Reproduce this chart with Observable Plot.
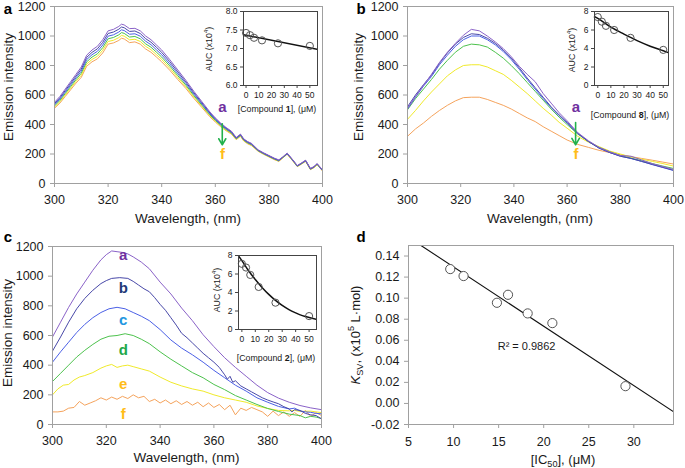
<!DOCTYPE html>
<html><head><meta charset="utf-8">
<script src="https://cdn.jsdelivr.net/npm/d3@7"></script>
<script src="https://cdn.jsdelivr.net/npm/@observablehq/plot@0.6"></script>
<style>
body{margin:0;background:#fff;}
#root{position:relative;width:685px;height:468px;overflow:hidden;background:#fff;}
</style></head><body><div id="root"></div>
<script>
// ---------- DATA ----------
const specTicksX = [300,320,340,360,380,400];
const specTicksY = [0,200,400,600,800,1000,1200];
const insetTicksX = [0,10,20,30,40,50];
const insetATicksY = [6.0,6.5,7.0,7.5,8.0];
const insetBCTicksY = [0,2,4,6,8];
const dTicksX = [5,10,15,20,25,30];
const dTicksY = [-0.02,0,0.02,0.04,0.06,0.08,0.10,0.12,0.14];

// Panel a (compound 1) spectra, shared wavelength grid
const wlA = [300,302,304,306,308,310,312,314,316,318,320,322,324,325,326,328,330,332,334,336,338,340,343,346,349,352,355,358,360,362,364,366,367.8,369.4,370.6,372,373.5,376,378,380,382,383.7,385,386.8,388.5,390.6,392.2,393.7,395.5,396.8,398,400];
const specA_a = [550,590,640,690,740,790,870,905,930,975,1035,1045,1065,1080,1075,1050,1052,1035,1000,975,940,905,840,770,700,625,555,485,445,410,380,355,312,335,303,285,272,228,208,190,172,160,178,206,170,122,140,158,102,115,135,93];
const specA_b = [542,581,630,679,728,776,855,889,913,957,1017,1027,1046,1061,1056,1031,1034,1017,982,958,924,889,826,757,689,615,547,478,439,405,376,351,309,332,300,282,269,226,206,188,170,158,176,204,168,120,138,156,100,113,133,91];
const specA_c = [534,572,620,668,716,762,840,873,896,939,999,1008,1027,1042,1037,1012,1015,999,965,941,907,873,811,744,678,606,539,472,434,400,371,347,306,329,297,279,266,224,204,186,168,156,175,203,167,119,137,155,99,112,132,90];
const specA_d = [526,563,610,657,704,748,825,857,879,921,981,990,1008,1023,1018,993,997,981,947,924,891,857,797,731,667,596,531,465,428,395,367,343,303,326,294,276,263,222,202,184,166,154,173,201,165,117,135,153,97,110,130,88];
const specA_e = [518,554,600,646,692,734,810,841,862,903,963,971,989,1004,999,974,978,963,930,907,874,841,782,718,656,587,523,459,423,390,362,339,300,323,291,273,260,220,200,182,164,152,172,200,164,116,134,152,96,109,129,87];
const specA_f = [510,545,590,635,680,720,795,825,845,885,945,953,970,985,980,955,960,945,912,890,858,825,768,705,645,577,515,452,417,385,358,335,297,320,288,270,257,218,198,180,162,150,170,198,162,114,132,150,94,107,127,85];

// Panel b (compound 8) spectra
const wlB = [300,303,306,309,312,315,318,321,324,327,330,333,336,339,342,345,348,351,354,357,360,364,368,372,376,380,384,388,392,396,400];
const specB_a = [510,590,665,740,820,890,950,1005,1045,1035,1000,960,915,860,795,740,690,610,545,480,425,345,290,245,215,190,185,160,135,115,95];
const specB_b = [520,600,670,735,815,885,945,990,1015,1010,985,950,905,850,785,715,650,585,520,465,415,340,285,240,210,185,170,150,130,110,90];
const specB_c = [505,585,660,725,805,870,930,975,1000,1000,975,940,895,840,775,705,640,575,515,460,410,340,285,240,210,185,170,150,128,108,88];
const specB_d = [500,575,640,705,775,835,890,930,945,940,925,890,850,800,745,685,625,565,505,450,400,335,285,245,215,190,172,155,135,118,102];
const specB_e = [435,495,560,620,675,730,770,800,805,805,790,765,740,700,655,610,560,510,465,415,375,320,280,250,220,200,180,165,150,135,118];
const specB_f = [320,370,410,455,495,530,560,582,585,585,570,550,530,505,475,445,420,385,355,325,295,265,245,225,210,195,182,170,158,145,132];

// Panel c (compound 2) spectra, [wavelength, intensity]
const specC_a = [[300,590],[303,690],[306,790],[309,880],[312,960],[315,1040],[318,1110],[320,1145],[322,1170],[324,1165],[326,1160],[328,1150],[330,1130],[333,1095],[336,1050],[340,960],[344,880],[348,785],[352,700],[356,605],[360,525],[364,450],[368,385],[372,325],[376,265],[380,215],[384,178],[388,150],[392,128],[396,112],[400,100]];
const specC_b = [[300,495],[303,590],[306,690],[309,780],[312,850],[315,905],[318,950],[320,970],[322,985],[325,990],[328,985],[330,965],[332,940],[334,915],[336,895],[338,855],[340,810],[342,770],[344,720],[346,670],[348,615],[350,585],[352,550],[354,515],[356,480],[358,450],[360,420],[362,385],[363,360],[364,335],[365,305],[366,325],[367,285],[368,295],[370,260],[372,240],[374,220],[376,200],[378,180],[380,165],[382,152],[384,140],[386,120],[388,105],[389,85],[390,100],[392,95],[394,75],[396,65],[398,60],[400,38]];
const specC_c = [[300,420],[303,490],[306,555],[309,620],[312,675],[315,720],[318,755],[321,780],[324,790],[327,780],[330,755],[333,730],[336,700],[340,640],[344,570],[348,515],[352,470],[356,420],[360,365],[364,315],[368,265],[372,225],[376,180],[380,150],[384,122],[388,105],[390,110],[392,92],[394,85],[396,82],[398,75],[400,72]];
const specC_d = [[300,290],[303,345],[306,400],[309,455],[312,500],[315,540],[318,575],[321,595],[324,600],[327,612],[330,600],[333,575],[336,545],[340,490],[344,440],[348,395],[352,350],[356,315],[360,270],[364,235],[368,195],[372,165],[376,135],[380,108],[384,88],[388,70],[392,60],[394,45],[396,55],[398,50],[400,40]];
const specC_e = [[300,200],[302,240],[304,265],[306,270],[308,300],[310,320],[312,330],[315,350],[318,380],[320,395],[322,405],[324,385],[326,395],[328,400],[330,390],[333,375],[336,360],[340,320],[344,285],[348,260],[352,240],[356,225],[360,200],[364,180],[368,165],[372,150],[376,125],[380,108],[384,95],[388,92],[390,95],[392,88],[396,90],[400,80]];
const specC_f = [[300,85],[302,85],[304,90],[306,110],[308,115],[310,155],[312,130],[314,145],[316,160],[318,180],[320,165],[322,185],[324,170],[326,190],[328,175],[330,200],[332,180],[334,190],[336,155],[338,170],[340,145],[342,165],[344,140],[346,160],[348,135],[350,155],[352,130],[354,150],[356,120],[358,145],[360,115],[362,135],[364,100],[366,130],[368,65],[370,110],[372,95],[374,115],[376,100],[378,85],[380,55],[382,90],[384,60],[386,85],[388,55],[390,80],[392,55],[394,95],[396,55],[398,80],[400,60]];

// Curve labels
const lettersAB = ["a","f"];
const lettersABwl = [362.7, 363.3];
const lettersABint = [515, 197];
const lettersC = ["a","b","c","d","e","f"];
const lettersCwl = 326.3;
const lettersCint = [1140,922,706,503,274,72];
// Arrows (a -> f)
const arrowWl = [362.6, 363.2];
const arrowFrom = [405, 414];
const arrowTo = [262, 262];

// Insets: AUC (x10^4) vs concentration (uM)
const concA = [0,3.1,6.25,12.5,25,50];
const aucA = [7.42,7.36,7.29,7.22,7.14,7.07];
const fitA_x = [-2,56];
const fitA_y = [7.37,6.98];
const concB = [0,3.1,6.25,12.5,25,50];
const aucB = [7.4,6.9,6.45,6.0,5.15,3.85];
const fitB_x = [-2.5,0,10,20,30,40,50,54];
const fitB_y = [7.45,7.25,6.3,5.55,4.85,4.25,3.75,3.55];
const concC = [0,3.1,6.25,12.5,25,50];
const aucC = [7.1,6.7,5.9,4.6,2.9,1.45];
const fitC_x = [-2.5,0,5,10,15,20,25,30,35,40,45,50,55.5];
const fitC_y = [7.95,7.45,6.35,5.4,4.55,3.8,3.15,2.6,2.15,1.8,1.5,1.3,1.1];

// Panel d: Ksv vs IC50
const ic50 = [9.63,11.11,14.81,16.04,18.22,20.96,29.07];
const ksv = [0.1276,0.121,0.0956,0.1032,0.0855,0.0763,0.0164];
const fitD_x = [6.3,34.4];
const fitD_y = [0.1505,-0.0078];
const r2Text = "R² = 0.9862";
const r2Pos = [18.1, 0.054];

// ---------- STYLE ----------
const FONT = '"Liberation Sans", Arial, sans-serif';
const C = {purple:"#8a62c8", navy:"#4848a8", blue:"#4b60e6", green:"#4dc24d", yellow:"#f0ea2a", orange:"#f5a35c"};
const LBL = {a:"#7030a0", b:"#1f3a78", c:"#2196e0", d:"#22a84a", e:"#ffbd1a", f:"#ffbd1a"};
const root = document.getElementById("root");

function panel({box, pad, xDomain, yDomain, xTicks, yTicks, xFormat, yFormat, fontSize, frameStroke, frameFill, tickSize, xPad, yPad, marks}) {
  const [x0,y0,x1,y1] = box; const [pl,pt,pr,pb] = pad;
  const svg = Plot.plot({
    width: x1-x0+pl+pr, height: y1-y0+pt+pb,
    marginLeft: pl, marginTop: pt, marginRight: pr, marginBottom: pb,
    x: {domain: xDomain}, y: {domain: yDomain},
    style: {background:"transparent", fontFamily: FONT, fontSize: fontSize+"px", color:"#1a1a1a", overflow:"visible"},
    marks: [
      Plot.frame({fill: frameFill || "none", stroke: "none"}),
      ...marks,
      Plot.axisX({ticks: xTicks, tickFormat: xFormat, tickSize, tickPadding: xPad, label: null, stroke: frameStroke, fontSize}),
      Plot.axisY({ticks: yTicks, tickFormat: yFormat, tickSize, tickPadding: yPad, label: null, stroke: frameStroke, fontSize}),
      Plot.frame({stroke: frameStroke})
    ]
  });
  svg.style.position = "absolute";
  svg.style.left = (x0-pl)+"px";
  svg.style.top = (y0-pt)+"px";
  root.appendChild(svg);
  return svg;
}
const gridLine = (wl, ys, color) => Plot.line(ys, {x: (d,i) => wl[i], y: d => d, stroke: color, strokeWidth: 1, clip: true});
const pairLine = (pairs, color) => Plot.line(pairs, {x: d => d[0], y: d => d[1], stroke: color, strokeWidth: 1, clip: true});
const fmtInt = d => String(d);

function letterMarks(k) {
  return [
    Plot.arrow([0], {x1: arrowWl[k], x2: arrowWl[k], y1: arrowFrom[k], y2: arrowTo[k], stroke: "#22b14c", strokeWidth: 1.6, headLength: 9}),
    Plot.text([lettersAB[0]], {x: lettersABwl[k], y: lettersABint[0], text: d => d, fill: LBL.a, fontSize: 15, fontWeight: "bold"}),
    Plot.text([lettersAB[1]], {x: lettersABwl[k], y: lettersABint[1], text: d => d, fill: LBL.f, fontSize: 15, fontWeight: "bold"})
  ];
}

// Panel a
panel({box:[54,6,322,183], pad:[54,6,18,47], xDomain:[300,400], yDomain:[0,1200], xTicks:specTicksX, yTicks:specTicksY,
  xFormat: fmtInt, yFormat: fmtInt, fontSize: 12.5, frameStroke: "#a0a0a0", tickSize: 4, xPad: 7.5, yPad: 5,
  marks: [
    gridLine(wlA, specA_f, C.orange), gridLine(wlA, specA_e, C.yellow), gridLine(wlA, specA_d, C.green),
    gridLine(wlA, specA_c, C.blue), gridLine(wlA, specA_b, C.navy), gridLine(wlA, specA_a, C.purple),
    ...letterMarks(0)
  ]});

// Panel b
panel({box:[407,6,673,183], pad:[60,6,12,47], xDomain:[300,400], yDomain:[0,1200], xTicks:specTicksX, yTicks:specTicksY,
  xFormat: fmtInt, yFormat: fmtInt, fontSize: 12.5, frameStroke: "#a0a0a0", tickSize: 4, xPad: 7.5, yPad: 5,
  marks: [
    gridLine(wlB, specB_f, C.orange), gridLine(wlB, specB_e, C.yellow), gridLine(wlB, specB_d, C.green),
    gridLine(wlB, specB_c, C.blue), gridLine(wlB, specB_b, C.navy), gridLine(wlB, specB_a, C.purple),
    ...letterMarks(1)
  ]});

// Panel c
panel({box:[52,246,321,424], pad:[52,16,19,44], xDomain:[300,400], yDomain:[0,1200], xTicks:specTicksX, yTicks:specTicksY,
  xFormat: fmtInt, yFormat: fmtInt, fontSize: 12.5, frameStroke: "#a0a0a0", tickSize: 4, xPad: 8, yPad: 5,
  marks: [
    pairLine(specC_f, C.orange), pairLine(specC_e, C.yellow), pairLine(specC_d, C.green),
    pairLine(specC_c, C.blue), pairLine(specC_b, C.navy), pairLine(specC_a, C.purple),
    ...lettersC.map((t,i) => Plot.text([t], {x: lettersCwl, y: lettersCint[i], text: d => d, fill: LBL[t], fontSize: 15, fontWeight: "bold"}))
  ]});

// Panel d
panel({box:[408,245,673,424], pad:[60,15,12,44], xDomain:[5,34.4], yDomain:[-0.02,0.15], xTicks:dTicksX, yTicks:dTicksY,
  xFormat: fmtInt, yFormat: d => d.toFixed(2), fontSize: 12.5, frameStroke: "#a0a0a0", tickSize: 4, xPad: 8.5, yPad: 5,
  marks: [
    Plot.line(fitD_x, {x: d => d, y: (d,i) => fitD_y[i], stroke: "#111", strokeWidth: 1.1, clip: true}),
    Plot.dot(ic50, {x: d => d, y: (d,i) => ksv[i], r: 4.6, stroke: "#555", fill: "white", strokeWidth: 1}),
    Plot.text([r2Text], {x: r2Pos[0], y: r2Pos[1], text: d => d, fontSize: 11, fill: "#1a1a1a"})
  ]});

// Insets
function inset(box, xDomain, yDomain, yTicks, yFormat, conc, auc, fx, fy) {
  panel({box, pad:[24,6,8,20], xDomain, yDomain, xTicks: insetTicksX, yTicks, xFormat: fmtInt, yFormat,
    fontSize: 8.5, frameStroke: "#444", frameFill: "white", tickSize: 3, xPad: 3, yPad: 3,
    marks: [
      Plot.line(fx, {x: d => d, y: (d,i) => fy[i], stroke: "#111", strokeWidth: 1.5, curve: "monotone-x", clip: true}),
      Plot.dot(conc, {x: d => d, y: (d,i) => auc[i], r: 3.6, stroke: "#555", fill: "none", strokeWidth: 1})
    ]});
}
inset([243,11,317,85], [-2,56], [6,8], insetATicksY, d => d.toFixed(1), concA, aucA, fitA_x, fitA_y);
inset([594,11,668,85], [-2.5,54], [0,8], insetBCTicksY, fmtInt, concB, aucB, fitB_x, fitB_y);
inset([238,255,316,329], [-2.5,55.5], [0,8], insetBCTicksY, fmtInt, concC, aucC, fitC_x, fitC_y);

// ---------- OVERLAY TEXT (axis titles, panel letters) ----------
const overlay = d3.create("svg").attr("width",685).attr("height",468)
  .style("position","absolute").style("left","0px").style("top","0px").style("pointer-events","none")
  .style("font-family", FONT).style("overflow","visible");
function rich(x, y, parts, {size=13.5, rotate=0, anchor="middle", weight="normal", fill="#1a1a1a"} = {}) {
  const t = overlay.append("text").attr("transform", `translate(${x},${y}) rotate(${rotate})`)
    .attr("text-anchor", anchor).attr("font-size", size).attr("font-weight", weight).attr("fill", fill);
  let shift = 0;
  parts.forEach((p, idx) => {
    const [s, o] = typeof p === "string" ? [p, {}] : p;
    const ts = t.append("tspan").text(s);
    let target = 0;
    if (o.sup) target = -size*0.42;
    if (o.sub) target = size*0.25;
    if (o.sup || o.sub) ts.attr("font-size", size*0.7);
    let dy = target - shift;
    if (idx === 0) dy += size*0.35;
    if (dy !== 0) ts.attr("dy", dy);
    shift = target;
    if (o.bold) ts.attr("font-weight","bold");
    if (o.italic) ts.attr("font-style","italic");
  });
}
// panel letters
rich(8, 9, ["a"], {size:15, weight:"bold", fill:"#000"});
rich(361, 9, ["b"], {size:15, weight:"bold", fill:"#000"});
rich(8, 237, ["c"], {size:15, weight:"bold", fill:"#000"});
rich(361, 237, ["d"], {size:15, weight:"bold", fill:"#000"});
// main axis titles
rich(8, 87, ["Emission intensity"], {rotate:-90});
rich(188, 218, ["Wavelength, (nm)"]);
rich(358, 87, ["Emission intensity"], {rotate:-90});
rich(540, 218, ["Wavelength, (nm)"]);
rich(7, 333, ["Emission intensity"], {rotate:-90});
rich(186.5, 457.5, ["Wavelength, (nm)"]);
rich(355, 335, [["K",{italic:true}],["SV",{sub:true}],", (x10",["5",{sup:true}]," L·mol)"], {rotate:-90, size:13});
rich(563, 459, ["[IC",["50",{sub:true}],"], (μM)"], {size:13});
// inset titles
rich(209, 49, ["AUC (x10",["4",{sup:true}],")"], {rotate:-90, size:8.8});
rich(277, 109, ["[Compound ",["1",{bold:true}],"], (μM)"], {size:8.8});
rich(572, 50, ["AUC (x10",["4",{sup:true}],")"], {rotate:-90, size:8.8});
rich(630, 115, ["[Compound ",["8",{bold:true}],"], (μM)"], {size:8.8});
rich(217, 290, ["AUC (x10",["4",{sup:true}],")"], {rotate:-90, size:8.8});
rich(276, 358, ["[Compound ",["2",{bold:true}],"], (μM)"], {size:8.8});
root.appendChild(overlay.node());
</script></body></html>
